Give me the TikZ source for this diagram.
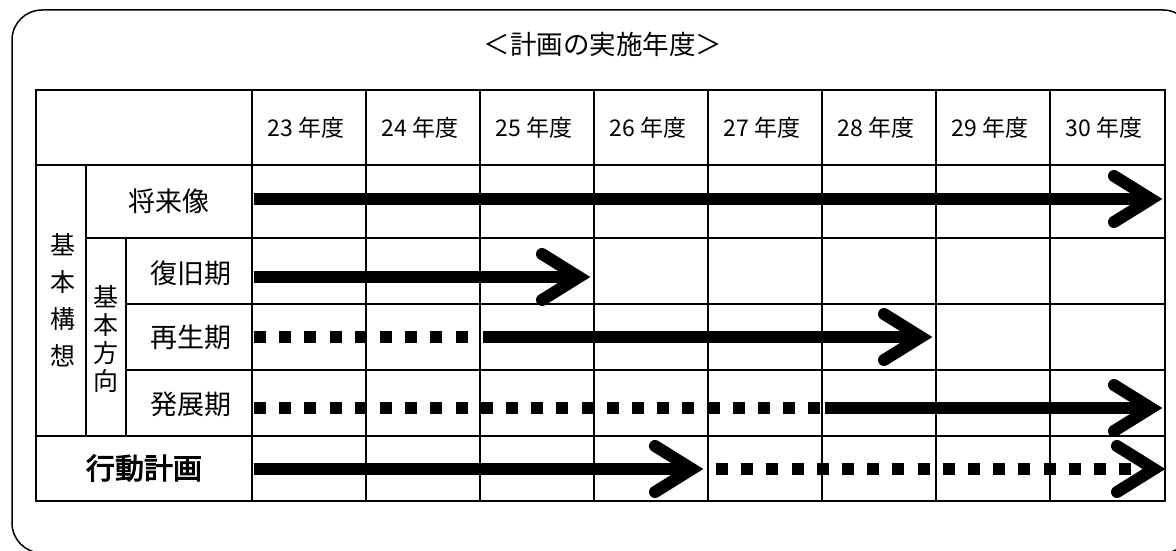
\documentclass[tikz,border=0pt]{standalone}
\usepackage{fontspec}
\setmainfont{Noto Sans CJK JP}
\newfontfamily\kodofont{Noto Sans CJK JP}[FakeBold=3]
\begin{document}
\begin{tikzpicture}[x=1pt,y=-1pt,
  grid/.style={line width=1.5pt},
  shaft/.style={line width=12pt},
  dshaft/.style={line width=12pt, dash pattern=on 12pt off 13.2pt},
  chev/.pic={\draw[line width=12pt,line cap=round,line join=miter] (-37,-23) -- (0,0) -- (-37,23);},
  lab/.style={font=\fontsize{27}{30}\selectfont, inner sep=0pt},
  hdr/.style={font=\fontsize{23}{26}\selectfont, inner sep=0pt}]
\useasboundingbox (0,0) rectangle (1176,551);
\begin{scope}
  \clip (0,0) rectangle (1176,551);
  \draw[line width=1.5pt, rounded corners=30pt] (12,10) rectangle (1193,553);
\end{scope}
% title
\node[lab, font=\fontsize{26.5}{30}\selectfont] (title) at (603,44) {＜計画の実施年度＞};
% table
\draw[grid] (36,90) rectangle (1165,501);
\draw[grid] (36,165) -- (1165,165);
\draw[grid] (86,238) -- (1165,238);
\draw[grid] (126,304) -- (1165,304);
\draw[grid] (126,370) -- (1165,370);
\draw[grid] (36,436) -- (1165,436);
\draw[grid] (86,165) -- (86,436);
\draw[grid] (126,238) -- (126,436);
\foreach \x in {252,366,...,1050} \draw[grid] (\x,90) -- (\x,501);
% header
\foreach \i [count=\k] in {23,...,30}
  \node[hdr] (h\i) at ({252+114*(\k-1)+54},128) {\i\hspace{0.25em}年度};
% row labels
\node[lab] (shorai) at (169,201) {将来像};
\node[lab] (fukkyu) at (191,273) {復旧期};
\node[lab] (saisei) at (191,337) {再生期};
\node[lab] (hatten) at (191,404) {発展期};
\node[lab, font=\fontsize{29}{32}\kodofont] (kodo) at (144,468) {行動計画};
\node[lab, align=center, font=\fontsize{25}{37}\selectfont] (kkoso) at (63,300) {基\\本\\構\\想};
\node[lab, align=center, font=\fontsize{25}{28}\selectfont] (khoko) at (106,339) {基\\本\\方\\向};
% arrows
\coordinate (a1s) at (254,199); \coordinate (a1e) at (1151,199);
\draw[shaft] (a1s) -- (a1e); \path (a1e) pic{chev};
\coordinate (a2s) at (254,277); \coordinate (a2e) at (579,277);
\draw[shaft] (a2s) -- (a2e); \path (a2e) pic{chev};
\coordinate (a3d) at (254,337); \coordinate (a3s) at (483,337); \coordinate (a3e) at (921,337);
\draw[dshaft] (a3d) -- (469,337);
\draw[shaft] (a3s) -- (a3e); \path (a3e) pic{chev};
\coordinate (a4d) at (254,408); \coordinate (a4s) at (825,408); \coordinate (a4e) at (1151,408);
\draw[dshaft] (a4d) -- (821,408);
\draw[shaft] (a4s) -- (a4e); \path (a4e) pic{chev};
\coordinate (a5s) at (254,469); \coordinate (a5e) at (692,469);
\draw[shaft] (a5s) -- (a5e); \path (a5e) pic{chev};
\coordinate (a6s) at (716,469); \coordinate (a6e) at (1154,469);
\draw[dshaft] (a6s) -- (1133,469); \path (a6e) pic{chev};
\end{tikzpicture}
\end{document}
